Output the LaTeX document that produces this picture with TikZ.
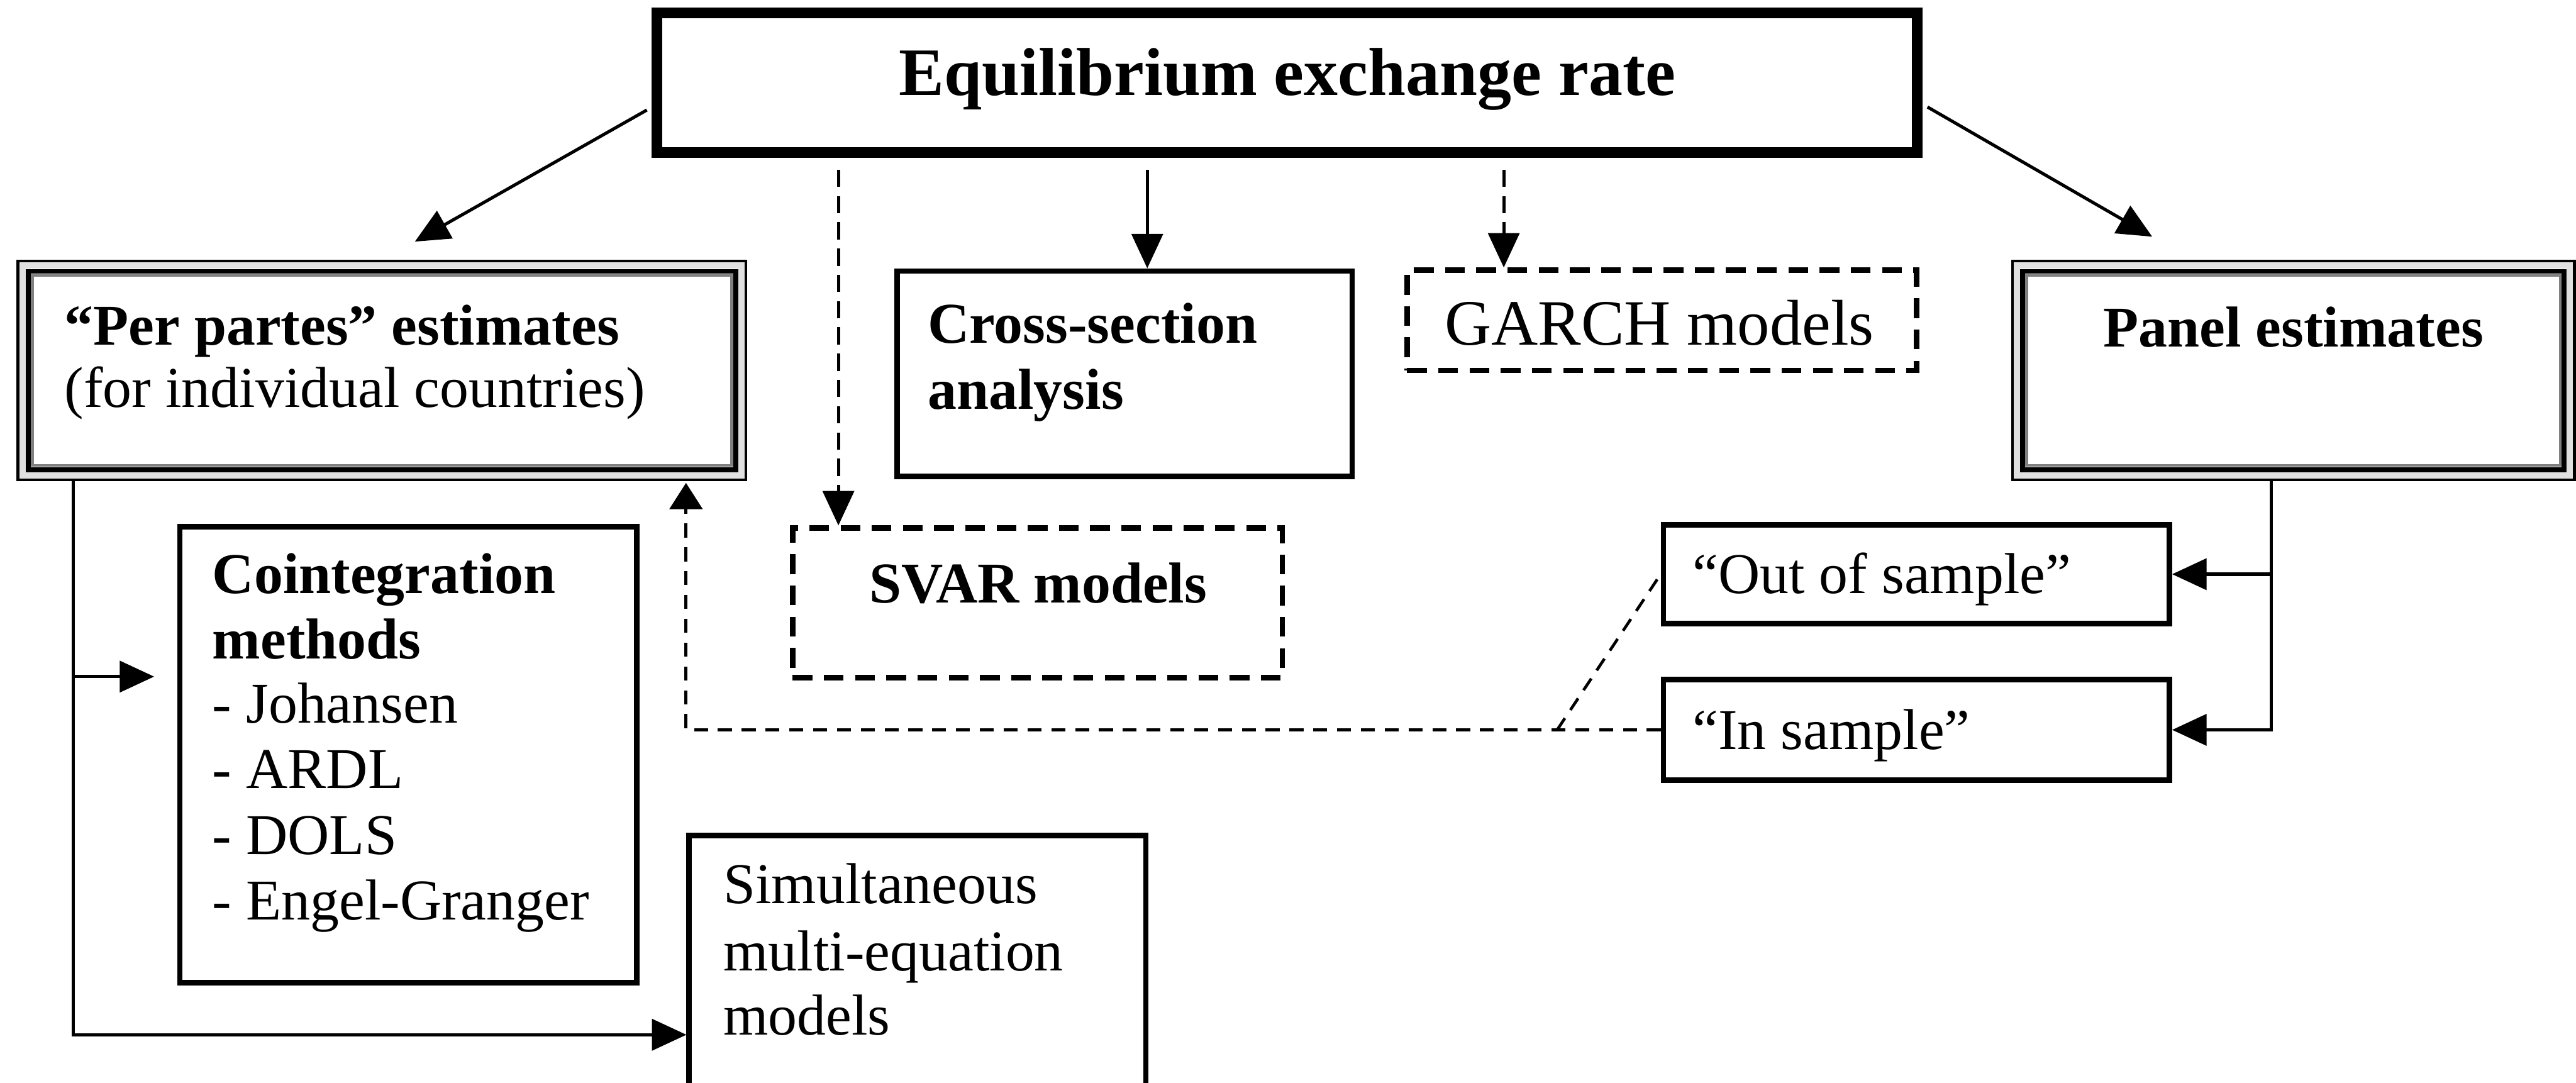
\documentclass[tikz,border=0pt]{standalone}
\usepackage{fontspec}
\setmainfont{Liberation Serif}
\usetikzlibrary{arrows.meta,fit,calc}
\begin{document}
\begin{tikzpicture}[x=0.02cm,y=-0.02cm,
  box/.style={draw, line width=1.9pt, inner sep=0pt},
  dashbox/.style={box, dash pattern=on 0.24cm off 0.14cm},
  topbox/.style={draw, line width=3.7pt, inner sep=0pt},
  frame/.style={draw, line width=1.75pt, inner sep=0pt},
  txt/.style={inner sep=0pt, anchor=base west, font=\fontsize{20}{22}\selectfont},
  bold/.style={txt, font=\fontsize{20}{22}\selectfont\bfseries},
  tip/.style={-{Triangle[length=0.42cm,width=0.38cm]}},
  arr/.style={line width=1.1pt, tip},
  darr/.style={line width=1.1pt, dash pattern=on 0.21cm off 0.11cm, tip},
  back/.style={line width=1.0pt, dash pattern=on 0.17cm off 0.12cm},
]
\clip (0,0) rectangle (1568,659);
\fill[white] (0,0) rectangle (1568,659);

% ---------- boxes ----------
\node[topbox, fit={(400,8) (1167,93)}] (top) {};
\node[frame, fit={(11.6,159.6) (453.4,291.4)}] (pp) {};
\node[frame, fit={(1225.6,159.6) (1566.4,291.4)}] (panel) {};
\foreach \b in {pp,panel}{
  \draw[black!12, line width=2.1pt] ([shift={(3.6,3.6)}]\b.north west) rectangle ([shift={(-3.6,-3.6)}]\b.south east);
  \draw[line width=1.7pt] ([shift={(7.1,7.1)}]\b.north west) rectangle ([shift={(-7.1,-7.1)}]\b.south east);
  \draw[black!50, line width=1pt] ([shift={(9.6,9.6)}]\b.north west) rectangle ([shift={(-9.6,-9.6)}]\b.south east);
}
\node[box, fit={(546,165) (823,290)}] (cross) {};
\node[dashbox, fit={(856.5,164.5) (1166.5,225.5)}] (garch) {};
\node[dashbox, fit={(482.5,321.5) (780.5,412.5)}] (svar) {};
\node[box, fit={(109.5,320.5) (387.5,598)}] (coint) {};
\node[box, fit={(1012.5,319.5) (1320.5,379.5)}] (outb) {};
\node[box, fit={(1012.5,413.5) (1320.5,475)}] (inb) {};
\node[box, fit={(419.5,508.5) (697.5,700)}] (sim) {};

% ---------- texts ----------
\node[bold, anchor=base, font=\fontsize{23.5}{26}\selectfont\bfseries] (top-t) at (783.5,58) {Equilibrium exchange rate};
\node[bold] (pp-t1) at (39,210) {“Per partes” estimates};
\node[txt]  (pp-t2) at (39,248) {(for individual countries)};
\node[bold] (cross-t1) at (564.5,209) {Cross-section};
\node[bold] (cross-t2) at (564.5,249) {analysis};
\node[txt, font=\fontsize{22.4}{25}\selectfont] (garch-t) at (879,210) {GARCH models};
\node[bold, anchor=base] (panel-t) at (1396,211) {Panel estimates};
\node[bold, anchor=base] (svar-t) at (632,367) {SVAR models};
\node[bold] (coint-t1) at (129,361) {Cointegration};
\node[bold] (coint-t2) at (129,401) {methods};
\node[txt]  (coint-t3) at (129,440) {- Johansen};
\node[txt]  (coint-t4) at (129,480) {- ARDL};
\node[txt]  (coint-t5) at (129,520) {- DOLS};
\node[txt]  (coint-t6) at (129,560) {- Engel-Granger};
\node[txt] (out-t) at (1030,361) {“Out of sample”};
\node[txt] (in-t) at (1030,456) {“In sample”};
\node[txt] (sim-t1) at (440,550) {Simultaneous};
\node[txt] (sim-t2) at (440,591) {multi-equation};
\node[txt] (sim-t3) at (440,630) {models};

% ---------- connector end points ----------
\coordinate (svarin)  at ($(svar.north west)+(29.5,0)$);
\coordinate (crossin) at ($(cross.north west)+(154,0)$);
\coordinate (garchin) at ($(garch.north west)+(60.5,0)$);
\coordinate (ppout)   at ($(pp.south west)+(34.5,0)$);
\coordinate (cointin) at ($(coint.north west)+(-14,93)$);
\coordinate (simin)   at ($(sim.north west)+(0,123)$);
\coordinate (panelout) at ($(panel.south west)+(158.5,0)$);
\coordinate (ppin)    at ($(pp.south west)+(407.5,1)$);
\coordinate (fork)    at ($(inb.west)+(-63,0)$);

% ---------- connectors ----------
\draw[arr] ($(top.north west)!0.68!(top.south west)+(-3,0)$) -- ($(pp.north west)!0.545!(pp.north east)+(0,-11)$);
\draw[arr] ($(top.north east)!0.66!(top.south east)+(3,0)$) -- ($(panel.north west)!0.25!(panel.north east)+(0,-14)$);
\draw[darr, shorten <=0.14cm] (top.south -| svarin) -- (svarin);
\draw[arr, shorten <=0.14cm] (top.south -| crossin) -- (crossin);
\draw[darr, shorten <=0.14cm] (top.south -| garchin) -- (garchin);

\draw[arr] (ppout) |- (simin);
\draw[arr] (ppout |- cointin) -- (cointin);

\draw[arr] (panelout) |- (outb.east);
\draw[arr] (panelout) |- (inb.east);

\draw[back, -{Triangle[length=0.32cm,width=0.4cm]}] (inb.west) -| (ppin);
\draw[back] (fork) -- (outb.west);
\end{tikzpicture}
\end{document}
